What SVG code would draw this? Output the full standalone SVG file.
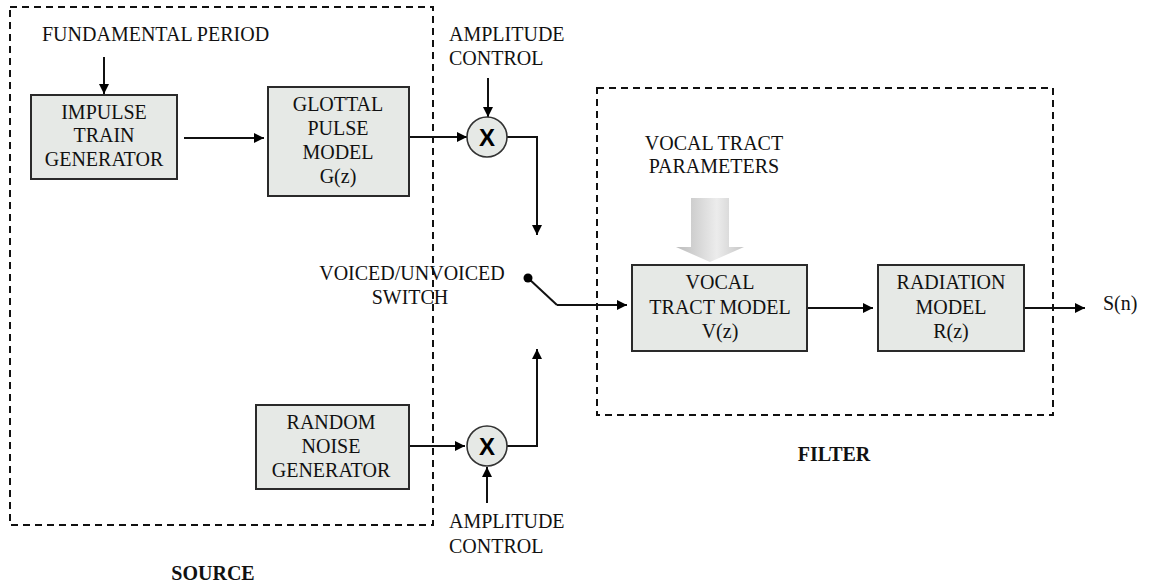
<svg xmlns="http://www.w3.org/2000/svg" width="1150" height="586" viewBox="0 0 1150 586">
  <style>
    text { font-family: "Liberation Serif", "Times New Roman", serif; font-size: 20px; fill: #111; }
    .c { text-anchor: middle; }
    .b { font-weight: bold; }
    .box { fill: #e6e9e6; stroke: #2a2a2a; stroke-width: 2; }
    .mul { fill: #e6e9e6; stroke: #333; stroke-width: 1.6; }
    .x { font-family: "Liberation Sans", Arial, sans-serif; font-weight: bold; font-size: 24px; text-anchor: middle; fill: #000; }
    .dash { fill: none; stroke: #111; stroke-width: 2; stroke-dasharray: 7 5; }
    .wire { fill: none; stroke: #111; stroke-width: 2; }
    .arr { marker-end: url(#head); }
  </style>
  <defs>
    <marker id="head" viewBox="0 0 10 10" refX="10" refY="5" markerWidth="10" markerHeight="10" markerUnits="userSpaceOnUse" orient="auto">
      <path d="M0,0 L10,5 L0,10 Z" fill="#000"/>
    </marker>
    <linearGradient id="shade" x1="0" y1="0" x2="1" y2="0">
      <stop offset="0" stop-color="#bcbcbc"/>
      <stop offset="0.6" stop-color="#ececec"/>
      <stop offset="1" stop-color="#c6c6c6"/>
    </linearGradient>
  </defs>

  <rect width="1150" height="586" fill="#fff"/>

  <!-- group outlines -->
  <g id="source-region">
    <rect class="dash" x="10" y="7" width="423" height="518"/>
    <text class="c b" x="213" y="580">SOURCE</text>
  </g>
  <g id="filter-region">
    <rect class="dash" x="597" y="88" width="456" height="327"/>
    <text class="c b" x="834" y="461">FILTER</text>
  </g>

  <!-- connectors -->
  <g id="connectors">
    <line class="wire arr" x1="104" y1="57" x2="104" y2="94"/>
    <line class="wire arr" x1="184" y1="138" x2="264" y2="138"/>
    <line class="wire arr" x1="409" y1="137" x2="467" y2="137"/>
    <line class="wire arr" x1="488" y1="78" x2="488" y2="117"/>
    <polyline class="wire arr" points="507,137 537,137 537,235"/>
    <polyline class="wire arr" points="409,446 465,446"/>
    <line class="wire arr" x1="487" y1="503" x2="487" y2="467"/>
    <polyline class="wire arr" points="507,446 537,446 537,349"/>
    <line class="wire" x1="528" y1="278" x2="557" y2="305"/>
    <line class="wire arr" x1="557" y1="305" x2="627" y2="305"/>
    <circle cx="528" cy="278" r="4.5" fill="#000"/>
    <line class="wire arr" x1="807" y1="308" x2="873" y2="308"/>
    <line class="wire arr" x1="1024" y1="308" x2="1085" y2="308"/>
    <!-- wide shaded parameter arrow -->
    <path d="M691,198 H729 V247 H744 L710,262 L676,247 H691 Z" fill="url(#shade)"/>
  </g>

  <!-- labels -->
  <g id="fundamental-period">
    <text x="42" y="41">FUNDAMENTAL PERIOD</text>
  </g>
  <g id="amplitude-control-voiced">
    <text x="449" y="41">AMPLITUDE</text>
    <text x="449" y="65">CONTROL</text>
  </g>
  <g id="amplitude-control-unvoiced">
    <text x="449" y="528">AMPLITUDE</text>
    <text x="449" y="553">CONTROL</text>
  </g>
  <g id="vocal-tract-parameters">
    <text class="c" x="714" y="150">VOCAL TRACT</text>
    <text class="c" x="714" y="173">PARAMETERS</text>
  </g>
  <g id="switch-label">
    <text class="c" x="412" y="280">VOICED/UNVOICED</text>
    <text class="c" x="410" y="304">SWITCH</text>
  </g>
  <g id="output-label">
    <text x="1103" y="310">S(n)</text>
  </g>

  <!-- blocks -->
  <g id="impulse-train-generator">
    <rect class="box" x="31" y="95" width="146" height="84"/>
    <text class="c" x="104" y="118.5">IMPULSE</text>
    <text class="c" x="104" y="142">TRAIN</text>
    <text class="c" x="104" y="166">GENERATOR</text>
  </g>
  <g id="glottal-pulse-model">
    <rect class="box" x="268" y="87" width="141" height="109"/>
    <text class="c" x="338" y="111">GLOTTAL</text>
    <text class="c" x="338" y="135">PULSE</text>
    <text class="c" x="338" y="159">MODEL</text>
    <text class="c" x="338" y="183">G(z)</text>
  </g>
  <g id="random-noise-generator">
    <rect class="box" x="256" y="405" width="153" height="84"/>
    <text class="c" x="331" y="429">RANDOM</text>
    <text class="c" x="331" y="453">NOISE</text>
    <text class="c" x="331" y="477">GENERATOR</text>
  </g>
  <g id="multiplier-voiced">
    <circle class="mul" cx="487" cy="137" r="20"/>
    <text class="x" x="487" y="146">X</text>
  </g>
  <g id="multiplier-unvoiced">
    <circle class="mul" cx="487" cy="446" r="20"/>
    <text class="x" x="487" y="455">X</text>
  </g>
  <g id="vocal-tract-model">
    <rect class="box" x="632" y="265" width="175" height="86"/>
    <text class="c" x="720" y="289">VOCAL</text>
    <text class="c" x="720" y="314">TRACT MODEL</text>
    <text class="c" x="720" y="338">V(z)</text>
  </g>
  <g id="radiation-model">
    <rect class="box" x="878" y="265" width="146" height="86"/>
    <text class="c" x="951" y="289">RADIATION</text>
    <text class="c" x="951" y="314">MODEL</text>
    <text class="c" x="951" y="338">R(z)</text>
  </g>
</svg>
